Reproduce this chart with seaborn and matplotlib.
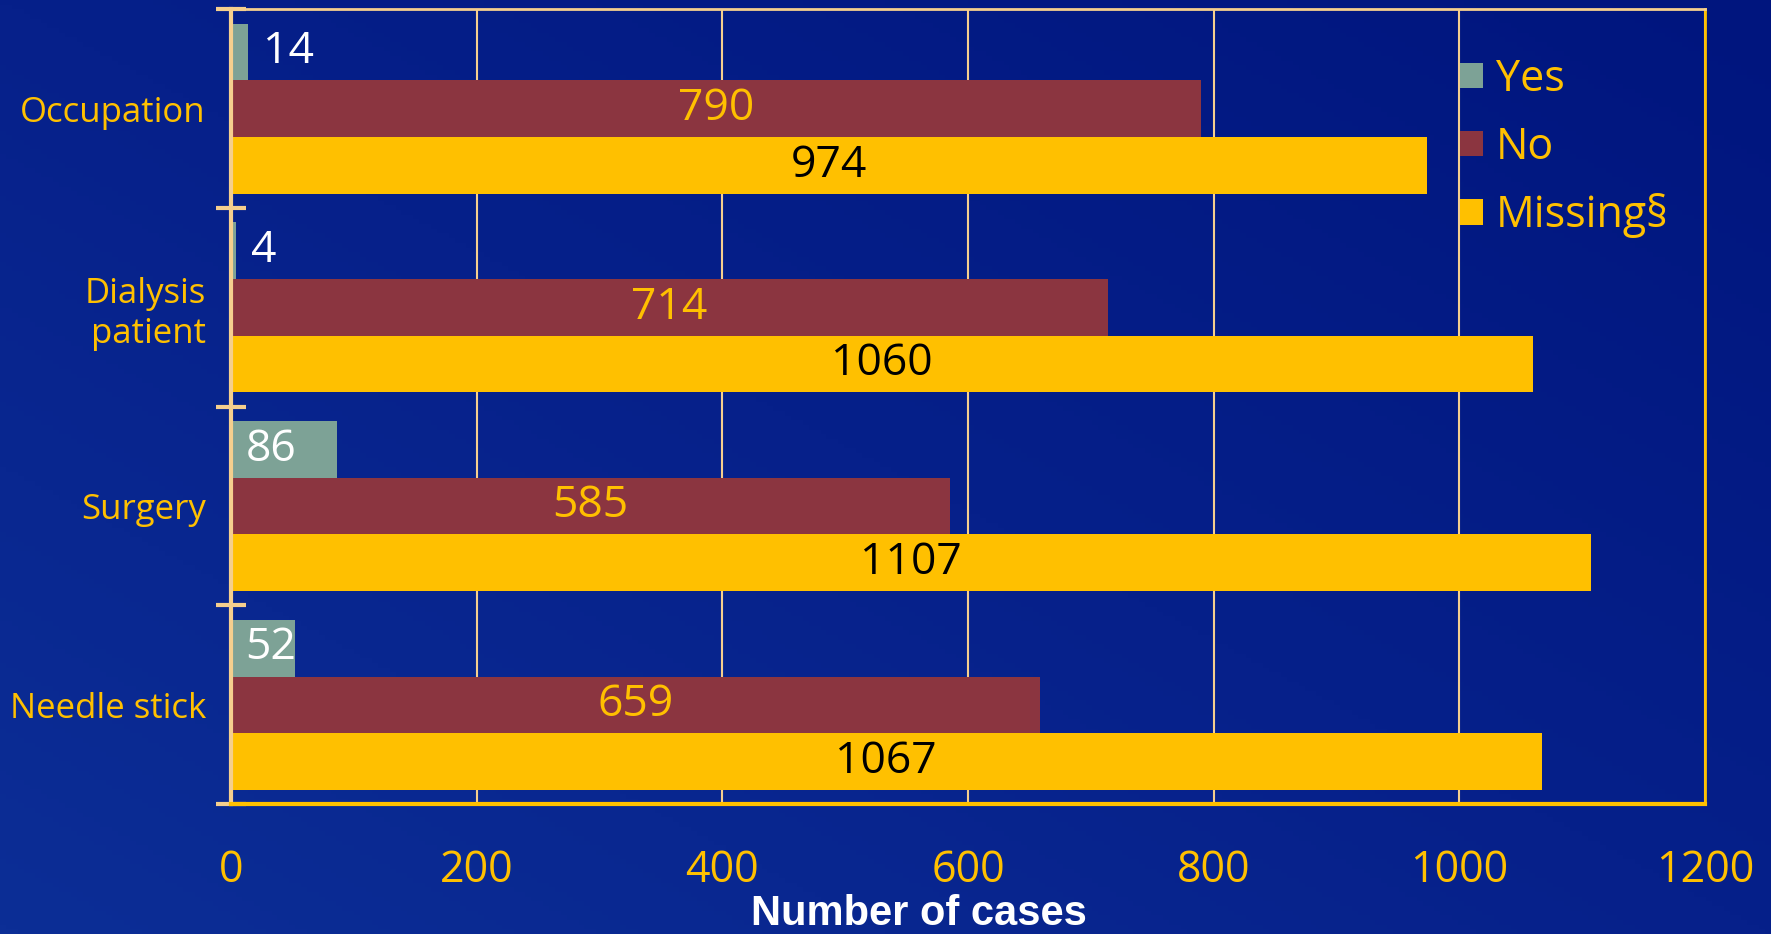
import numpy as np
import pandas as pd
import matplotlib
matplotlib.use("Agg")
import matplotlib.pyplot as plt
import seaborn as sns
from matplotlib.colors import LinearSegmentedColormap
from matplotlib.patches import Patch

categories = ["Occupation", "Dialysis\npatient", "Surgery", "Needle stick"]
responses = ["Yes", "No", "Missing§"]
yes_counts = [14, 4, 86, 52]
no_counts = [790, 714, 585, 659]
missing_counts = [974, 1060, 1107, 1067]
x_ticks = [0, 200, 400, 600, 800, 1000, 1200]

colors = {"Yes": "#7DA296", "No": "#8B3540", "Missing§": "#FFC000"}
YELLOW = "#FFC000"
BEIGE = "#F5CF8E"

df = pd.DataFrame({
    "category": categories * 3,
    "response": np.repeat(responses, len(categories)),
    "count": yes_counts + no_counts + missing_counts,
})

sns.set_style("white")
plt.rcParams["font.family"] = ["Open Sans", "DejaVu Sans"]

fig = plt.figure(figsize=(17.71, 9.34), dpi=100)

# blue gradient backdrop, lighter bottom-left, darker top-right
bg = fig.add_axes([0, 0, 1, 1], zorder=-10)
xx, yy = np.meshgrid(np.linspace(0, 1, 300), np.linspace(0, 1, 200))
grad = (xx + (1 - yy)) / 2
cmap = LinearSegmentedColormap.from_list("bg", ["#0C2E96", "#06208A", "#00157E"])
bg.imshow(grad, cmap=cmap, aspect="auto", extent=[0, 1, 0, 1], origin="upper")
bg.axis("off")

ax = fig.add_axes([0.1304, 0.139, 0.8323, 0.851])
ax.set_facecolor("none")
sns.barplot(
    data=df, x="count", y="category", hue="response", orient="h",
    palette=colors, width=0.855, saturation=1, linewidth=0,
    legend=False, ax=ax,
)
ax.set_xlim(0, 1200)
ax.set_ylim(3.5, -0.5)

# value labels
for bar, v in zip(ax.containers[0], yes_counts):
    y = bar.get_y() + bar.get_height() / 2
    x = v + 12 if v < 30 else 12
    ax.text(x, y, str(v), color="white", fontsize=32, ha="left", va="center")
ax.bar_label(ax.containers[1], labels=[str(v) for v in no_counts],
             label_type="center", color=YELLOW, fontsize=32)
ax.bar_label(ax.containers[2], labels=[str(v) for v in missing_counts],
             label_type="center", color="black", fontsize=32)

# x axis
ax.set_xticks(x_ticks)
ax.set_xticklabels([str(t) for t in x_ticks])
ax.tick_params(axis="x", length=0, pad=32, labelsize=31, labelcolor=YELLOW)
ax.xaxis.grid(True, color=BEIGE, linewidth=1.5)
ax.yaxis.grid(False)
ax.set_axisbelow(True)
ax.set_xlabel("Number of cases", fontsize=30, fontweight="bold", color="white",
              family="Liberation Sans", va="top")
ax.xaxis.set_label_coords(0.467, -0.113)

# y axis: boundary ticks, labels at group centres
ax.set_yticks(range(len(categories)), minor=True)
ax.set_yticklabels(categories, minor=True, linespacing=1.3)
ax.set_yticks([-0.5, 0.5, 1.5, 2.5, 3.5])
ax.set_yticklabels([])
ax.tick_params(axis="y", which="major", direction="inout", length=22, width=3,
               color=BEIGE, left=True)
ax.tick_params(axis="y", which="minor", length=0, pad=18, labelsize=25,
               labelcolor=YELLOW)
ax.set_ylabel("")

for side, col, lw in [("left", BEIGE, 3), ("top", BEIGE, 2),
                      ("right", YELLOW, 2), ("bottom", YELLOW, 3)]:
    ax.spines[side].set_visible(True)
    ax.spines[side].set_color(col)
    ax.spines[side].set_linewidth(lw)

handles = [Patch(facecolor=colors[r], edgecolor="none") for r in responses]
ax.legend(handles, responses, loc="upper left", bbox_to_anchor=(0.834, 0.94),
          frameon=False, fontsize=31, labelcolor=YELLOW, handlelength=0.53,
          handleheight=0.53, handletextpad=0.3, labelspacing=0.55,
          borderaxespad=0, borderpad=0)

fig.savefig("out.png", dpi=100)
